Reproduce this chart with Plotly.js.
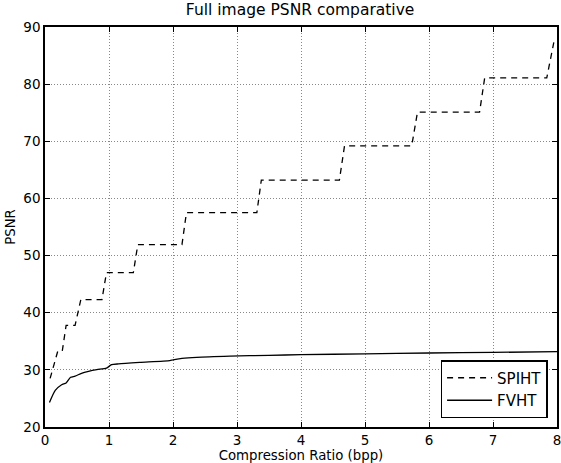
<!DOCTYPE html>
<html><head><meta charset="utf-8">
<script src="https://cdn.plot.ly/plotly-3.0.1.min.js"></script>
<style>body{margin:0;padding:0;background:#fff}#chart{width:561px;height:463px}</style>
</head><body><div id="chart"></div>
<script>
const spihtX = [0.08, 0.20, 0.27, 0.33, 0.47, 0.56, 0.89, 0.96, 1.38, 1.45, 2.14, 2.21, 3.31, 3.38, 4.60, 4.68, 5.73, 5.82, 6.79, 6.87, 7.84, 7.95];
const spihtY = [28.5, 33.3, 33.3, 37.8, 37.8, 42.3, 42.3, 47.0, 47.0, 51.9, 51.9, 57.5, 57.5, 63.2, 63.2, 69.2, 69.2, 75.1, 75.1, 81.1, 81.1, 87.3];
const fvhtX = [0.07, 0.16, 0.26, 0.33, 0.40, 0.47, 0.57, 0.68, 0.81, 0.96, 1.04, 1.15, 1.48, 1.95, 2.00, 2.14, 2.37, 2.89, 3.5, 4.0, 5.0, 6.0, 7.0, 8.0];
const fvhtY = [24.3, 26.4, 27.4, 27.7, 28.7, 28.9, 29.4, 29.75, 30.05, 30.3, 30.9, 31.05, 31.3, 31.6, 31.75, 32.0, 32.2, 32.4, 32.55, 32.65, 32.8, 32.95, 33.05, 33.2];
const xTicks = [0,1,2,3,4,5,6,7,8];
const yTicks = [20,30,40,50,60,70,80,90];

const font = {family: 'DejaVu Sans', color: '#000', size: 13};
const axisCommon = {
  showline: true, linecolor: '#000', linewidth: 1.5, mirror: 'allticks',
  ticks: 'inside', ticklen: 5, tickcolor: '#000', tickwidth: 1,
  showgrid: true, gridcolor: '#888', griddash: '1px,2px', gridwidth: 1,
  zeroline: false, ticklabeloverflow: 'allow',
  tickfont: {family: 'DejaVu Sans', size: 13.5, color: '#000'}
};
const data = [
  {x: spihtX, y: spihtY, name: 'SPIHT', mode: 'lines', line: {color: '#000', width: 1.3, dash: '6px,5px'}},
  {x: fvhtX, y: fvhtY, name: 'FVHT', mode: 'lines', line: {color: '#000', width: 1.3, shape: 'spline', smoothing: 0.6}}
];
const layout = {
  width: 561, height: 463,
  margin: {l: 45, r: 4, t: 27, b: 36},
  paper_bgcolor: '#fff', plot_bgcolor: '#fff',
  font: font,
  title: {text: 'Full image PSNR comparative', font: {family: 'DejaVu Sans', size: 15.5, color: '#000'}, x: 0.535, xanchor: 'center', y: 0.99, yanchor: 'top'},
  xaxis: Object.assign({}, axisCommon, {range: [0, 8], tickvals: xTicks,
    title: {text: 'Compression Ratio (bpp)', font: {family: 'DejaVu Sans', size: 13.3, color: '#000'}, standoff: 1}}),
  yaxis: Object.assign({}, axisCommon, {range: [20, 90], tickvals: yTicks,
    title: {text: 'PSNR', font: {family: 'DejaVu Sans', size: 13.3, color: '#000'}, standoff: 5}}),
  showlegend: true,
  legend: {x: 0.982, xanchor: 'right', y: 0.022, yanchor: 'bottom', bordercolor: '#000', borderwidth: 1.3,
    bgcolor: '#fff', font: {family: 'DejaVu Sans', size: 15, color: '#000'}, itemwidth: 45, tracegroupgap: 0}
};
Plotly.newPlot('chart', data, layout, {displayModeBar: false});
</script></body></html>
